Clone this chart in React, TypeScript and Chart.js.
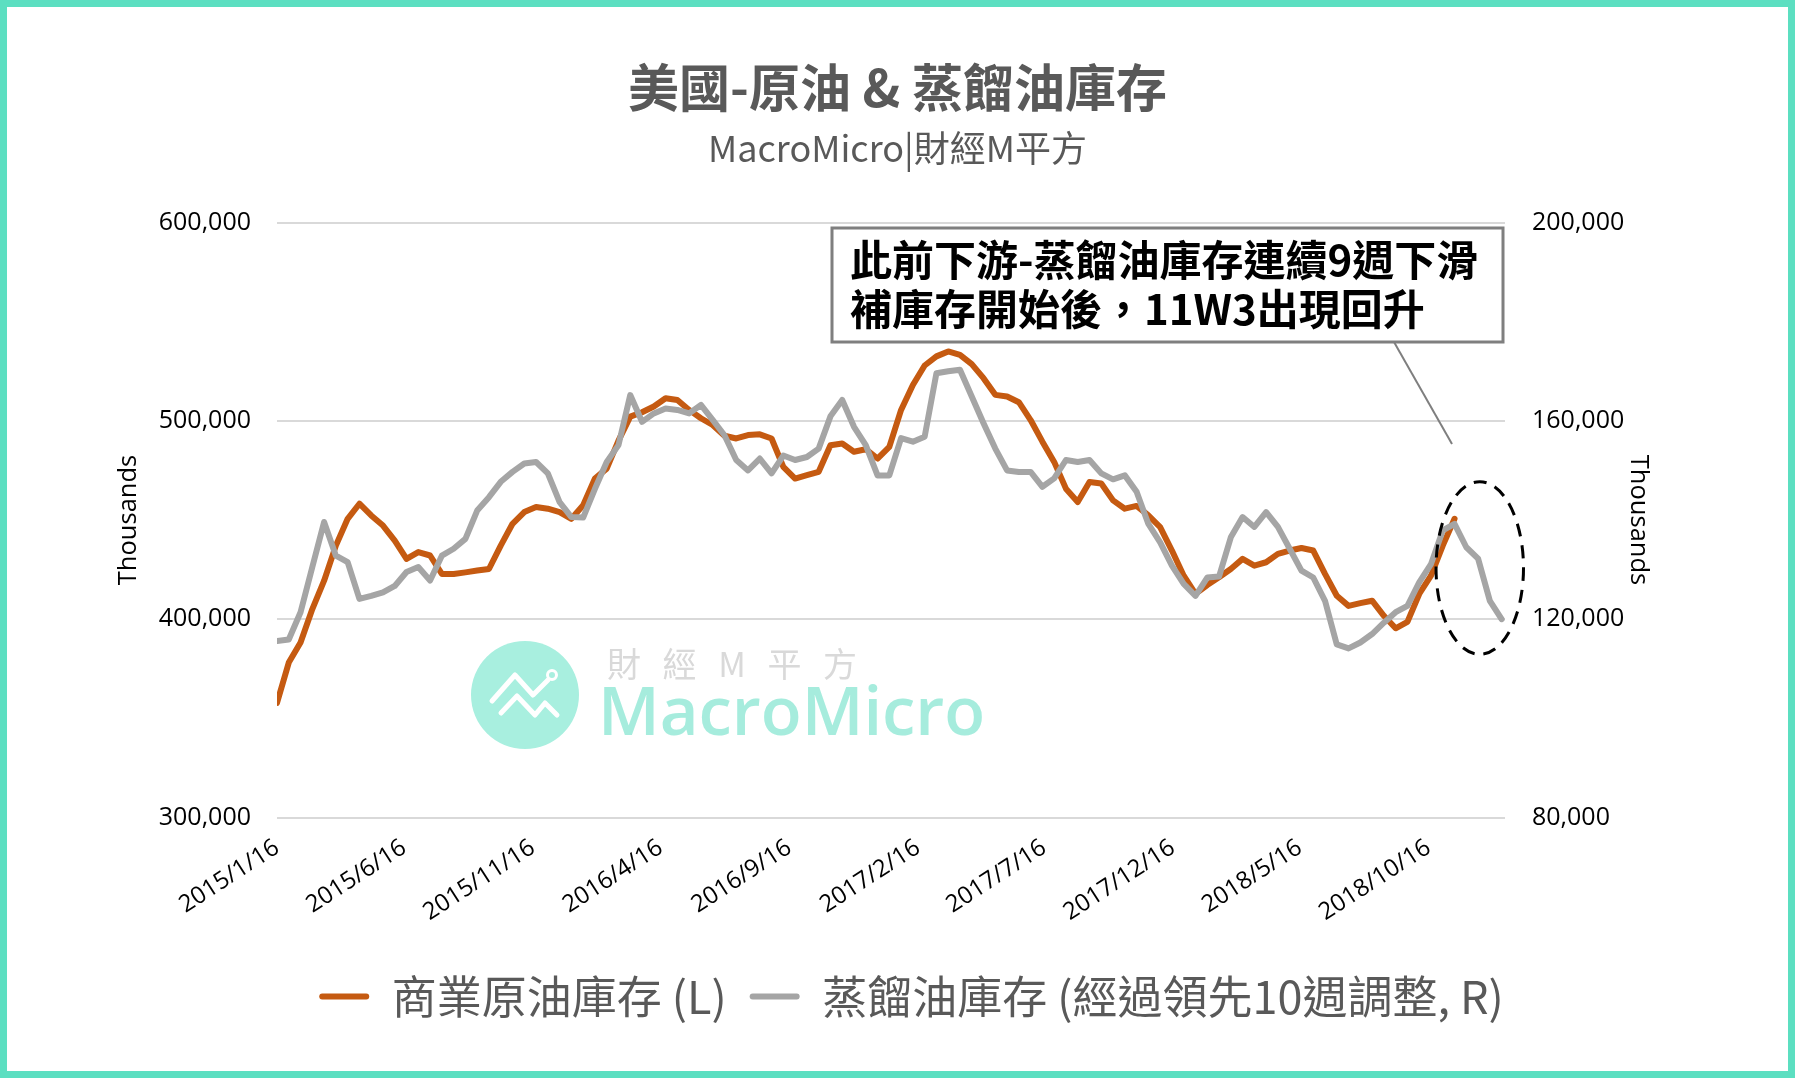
import { useEffect, useRef } from 'react';
import { Chart, registerables } from 'chart.js';

Chart.register(...registerables);

// ---------------- data ----------------
const START = '2015/1/16';
const STEP_DAYS = 14; // one value every two weeks
const X_MAX_DAYS = 1460;

const tickLabels = [
  '2015/1/16', '2015/6/16', '2015/11/16', '2016/4/16', '2016/9/16',
  '2017/2/16', '2017/7/16', '2017/12/16', '2018/5/16', '2018/10/16',
];

const seriesNames = ['商業原油庫存 (L)', '蒸餾油庫存 (經過領先10週調整, R)'];

// Commercial crude oil stocks (thousand barrels), left axis
const crudeStocks = [
  357800, 378100, 388200, 405100, 419400, 437100, 450600, 458200, 452300, 447200,
  439600, 430400, 433800, 432100, 422800, 422800, 423600, 424500, 425300, 437100,
  448100, 454000, 456600, 455700, 454000, 450600, 457400, 470900, 475900, 490000,
  502100, 504300, 507200, 511400, 510500, 505500, 501300, 497900, 492500, 491100,
  492800, 493200, 491100, 476800, 470900, 472600, 474300, 487700, 488600, 484400,
  485700, 481000, 486900, 505500, 518100, 527900, 532500, 535000, 533300, 528600,
  521500, 513100, 512300, 509400, 500400, 489500, 479300, 465800, 459100, 469200,
  468400, 459900, 455700, 457100, 452300, 446400, 434600, 421900, 412700, 417200,
  421100, 425300, 430400, 427000, 428700, 432900, 434600, 435900, 434600, 422800,
  411800, 406700, 408100, 409300, 401700, 395400, 398600, 412700, 421900, 437100,
  450600,
];

// Distillate stocks shifted 10 weeks ahead (thousand barrels), right axis
const distillateStocks = [
  115600, 115900, 121400, 130500, 139600, 132800, 131500, 124100, 124700, 125400,
  126700, 129500, 130500, 127800, 132800, 134200, 136200, 141900, 144600, 147700,
  149700, 151400, 151700, 149400, 143600, 140600, 140500, 146300, 151700, 155100,
  165200, 159800, 161500, 162500, 162200, 161500, 163200, 160200, 157100, 152100,
  150000, 152400, 149400, 153000, 152100, 152700, 154400, 160900, 164200, 158800,
  155100, 149000, 149000, 156500, 155800, 156800, 169600, 170000, 170300, 164900,
  159500, 154400, 150000, 149700, 149700, 146700, 148400, 152100, 151700, 152100,
  149400, 148200, 149000, 145700, 139200, 135500, 130800, 127100, 124700, 128400,
  128600, 136500, 140600, 138600, 141600, 138600, 134200, 129800, 128400, 123700,
  114900, 114100, 115300, 117000, 119300, 121400, 122700, 127400, 131100, 137900,
  139200, 134500, 132200, 123700, 120000,
];

const leftRange = [300000, 600000];
const leftStep = 100000;
const rightRange = [80000, 200000];
const rightStep = 40000;

const titleText = '美國-原油 & 蒸餾油庫存';
const subtitleText = 'MacroMicro|財經M平方';
const noteLines = ['此前下游-蒸餾油庫存連續9週下滑', '補庫存開始後，11W3出現回升'];
const axisTitle = 'Thousands';

// ---------------- helpers ----------------
function dayOffset(s: string) {
  const [y, m, d] = s.split('/').map(Number);
  const [y0, m0, d0] = START.split('/').map(Number);
  return Math.round((Date.UTC(y, m - 1, d) - Date.UTC(y0, m0 - 1, d0)) / 86400000);
}
const tickDays = tickLabels.map(dayOffset);

const CJK = "'Noto Sans CJK TC', 'Noto Sans', sans-serif";
const LATIN = "'Open Sans', 'Noto Sans', sans-serif";
const ORANGE = '#C55A11';
const GREY = '#A5A5A5';
const TEXT_GREY = '#595959';

const ELLIPSE = { centerDay: 1430, halfDays: 52, centerValue: 425800, halfValue: 43500 };
const LEGEND_SHIFT = 14;

const overlayPlugin = {
  id: 'overlay',
  afterLayout(chart: any) {
    const lg = chart.legend;
    if (lg) {
      lg.left += LEGEND_SHIFT;
      lg.right += LEGEND_SHIFT;
    }
  },
  beforeDatasetsDraw(chart: any) {
    const ctx = chart.ctx;
    ctx.save();
    // watermark logo
    const cx = 525, cy = 695, r = 54;
    ctx.fillStyle = '#A8EFDF';
    ctx.beginPath();
    ctx.arc(cx, cy, r, 0, Math.PI * 2);
    ctx.fill();
    ctx.strokeStyle = '#ffffff';
    ctx.lineWidth = 5;
    ctx.lineJoin = 'round';
    ctx.lineCap = 'round';
    ctx.beginPath();
    ctx.moveTo(cx - 33, cy + 6);
    ctx.lineTo(cx - 10, cy - 20);
    ctx.lineTo(cx + 8, cy);
    ctx.lineTo(cx + 23, cy - 15);
    ctx.stroke();
    ctx.beginPath();
    ctx.moveTo(cx - 24, cy + 18);
    ctx.lineTo(cx - 8, cy + 1);
    ctx.lineTo(cx + 10, cy + 20);
    ctx.lineTo(cx + 20, cy + 8);
    ctx.lineTo(cx + 32, cy + 20);
    ctx.stroke();
    ctx.lineWidth = 3;
    ctx.beginPath();
    ctx.arc(cx + 27, cy - 20, 4.5, 0, Math.PI * 2);
    ctx.stroke();
    // watermark text
    ctx.textBaseline = 'middle';
    ctx.textAlign = 'left';
    ctx.fillStyle = '#D9D9D9';
    ctx.font = `34px ${CJK}`;
    try { (ctx as any).letterSpacing = '7px'; } catch (e) {}
    ctx.fillText('財 經 M 平 方', 607, 664);
    try { (ctx as any).letterSpacing = '0px'; } catch (e) {}
    ctx.fillStyle = '#A6ECDD';
    ctx.font = `600 67px ${LATIN}`;
    ctx.fillText('MacroMicro', 598, 716);
    ctx.restore();
  },
  afterDatasetsDraw(chart: any) {
    const ctx = chart.ctx;
    const xs = chart.scales.x;
    const yl = chart.scales.yL;
    ctx.save();
    // dashed ellipse around the latest distillate rebound
    const ex = xs.getPixelForValue(ELLIPSE.centerDay);
    const ey = yl.getPixelForValue(ELLIPSE.centerValue);
    const rx = xs.getPixelForValue(ELLIPSE.centerDay + ELLIPSE.halfDays) - ex;
    const ry = yl.getPixelForValue(ELLIPSE.centerValue - ELLIPSE.halfValue) - ey;
    ctx.setLineDash([13, 9]);
    ctx.strokeStyle = '#000000';
    ctx.lineWidth = 3;
    ctx.beginPath();
    ctx.ellipse(ex, ey, Math.abs(rx), Math.abs(ry), 0, 0, Math.PI * 2);
    ctx.stroke();
    ctx.setLineDash([]);
    // leader line
    ctx.strokeStyle = '#7F7F7F';
    ctx.lineWidth = 2;
    ctx.beginPath();
    ctx.moveTo(1394, 342);
    ctx.lineTo(1452, 444);
    ctx.stroke();
    // note box
    ctx.fillStyle = '#ffffff';
    ctx.fillRect(832, 228, 671, 114);
    ctx.lineWidth = 3;
    ctx.strokeRect(832, 228, 671, 114);
    ctx.fillStyle = '#000000';
    ctx.font = `bold 42px ${CJK}`;
    ctx.textBaseline = 'middle';
    ctx.textAlign = 'left';
    ctx.fillText(noteLines[0], 850, 260);
    ctx.fillText(noteLines[1], 850, 309);
    ctx.restore();
  },
};

export default function App() {
  const ref = useRef<HTMLCanvasElement>(null);

  useEffect(() => {
    document.body.style.margin = '0';
    const canvas = ref.current!;
    const defaultLabels = (Chart as any).defaults.plugins.legend.labels.generateLabels;
    const chart = new Chart(canvas, {
      type: 'line',
      data: {
        datasets: [
          {
            label: seriesNames[0],
            data: crudeStocks.map((v, i) => ({ x: i * STEP_DAYS, y: v })),
            yAxisID: 'yL',
            borderColor: ORANGE,
            backgroundColor: ORANGE,
            borderWidth: 6,
            pointRadius: 0,
            tension: 0,
            borderJoinStyle: 'round',
            borderCapStyle: 'round',
            order: 2,
          },
          {
            label: seriesNames[1],
            data: distillateStocks.map((v, i) => ({ x: i * STEP_DAYS, y: v })),
            yAxisID: 'yR',
            borderColor: GREY,
            backgroundColor: GREY,
            borderWidth: 6,
            pointRadius: 0,
            tension: 0,
            borderJoinStyle: 'round',
            borderCapStyle: 'round',
            order: 1,
          },
        ],
      },
      options: {
        responsive: false,
        animation: false,
        devicePixelRatio: 1,
        events: [],
        layout: { padding: { left: 0, right: 0, top: 0, bottom: 49 } },
        plugins: {
          title: {
            display: true,
            text: titleText,
            color: TEXT_GREY,
            font: { family: CJK, size: 51, weight: 'bold', lineHeight: 1.2 },
            padding: { top: 57, bottom: 8.2 },
          },
          subtitle: {
            display: true,
            text: subtitleText,
            color: TEXT_GREY,
            font: { family: CJK, size: 36, weight: 'normal', lineHeight: 1.2 },
            padding: { top: 0, bottom: 52.9 },
          },
          legend: {
            position: 'bottom',
            labels: {
              boxWidth: 50,
              boxHeight: 6,
              padding: 23,
              color: TEXT_GREY,
              useBorderRadius: true,
              borderRadius: 3,
              font: { family: CJK, size: 45 },
              sort: (a: any, b: any) => a.datasetIndex - b.datasetIndex,
              generateLabels: (c: any) =>
                defaultLabels(c).map((l: any) => ({ ...l, lineWidth: 0 })),
            },
          },
          tooltip: { enabled: false },
        },
        scales: {
          x: {
            type: 'linear',
            min: 0,
            max: X_MAX_DAYS,
            afterBuildTicks: (s: any) => {
              s.ticks = tickDays.map((v) => ({ value: v }));
            },
            afterFit: (s: any) => {
              s.height = 133.5;
            },
            ticks: {
              autoSkip: false,
              minRotation: 33,
              maxRotation: 33,
              padding: 16,
              color: '#000000',
              font: { family: LATIN, size: 24 },
              callback: (v: any) => {
                const i = tickDays.indexOf(Number(v));
                return i >= 0 ? tickLabels[i] : '';
              },
            },
            grid: { display: false, drawTicks: false },
            border: { display: false },
          },
          yL: {
            position: 'left',
            min: leftRange[0],
            max: leftRange[1],
            afterFit: (s: any) => {
              s.width = 277;
            },
            ticks: {
              stepSize: leftStep,
              padding: 26,
              color: '#000000',
              font: { family: LATIN, size: 25 },
              callback: (v: any) => Number(v).toLocaleString('en-US'),
            },
            grid: { color: '#D9D9D9', lineWidth: 2, drawTicks: false },
            border: { display: false },
            title: {
              display: true,
              text: axisTitle,
              color: '#000000',
              font: { family: LATIN, size: 25.5, lineHeight: 1.2 },
              padding: { top: 113, bottom: 0 },
            },
          },
          yR: {
            position: 'right',
            min: rightRange[0],
            max: rightRange[1],
            afterFit: (s: any) => {
              s.width = 290;
            },
            ticks: {
              stepSize: rightStep,
              padding: 27,
              color: '#000000',
              font: { family: LATIN, size: 25 },
              callback: (v: any) => Number(v).toLocaleString('en-US'),
            },
            grid: { display: false, drawTicks: false },
            border: { display: false },
            title: {
              display: true,
              text: axisTitle,
              color: '#000000',
              font: { family: LATIN, size: 25.5, lineHeight: 1.2 },
              padding: { top: 141, bottom: 0 },
            },
          },
        },
      } as any,
      plugins: [overlayPlugin],
    });
    return () => chart.destroy();
  }, []);

  return (
    <div style={{ position: 'relative', width: 1795, height: 1078, background: '#ffffff', overflow: 'hidden' }}>
      <canvas
        ref={ref}
        width={1795}
        height={1078}
        style={{ position: 'absolute', left: 0, top: 0, width: 1795, height: 1078 }}
      />
      <div
        style={{
          position: 'absolute',
          left: 0,
          top: 0,
          width: 1795,
          height: 1078,
          border: '7px solid #5CDFC1',
          boxSizing: 'border-box',
          pointerEvents: 'none',
        }}
      />
    </div>
  );
}
